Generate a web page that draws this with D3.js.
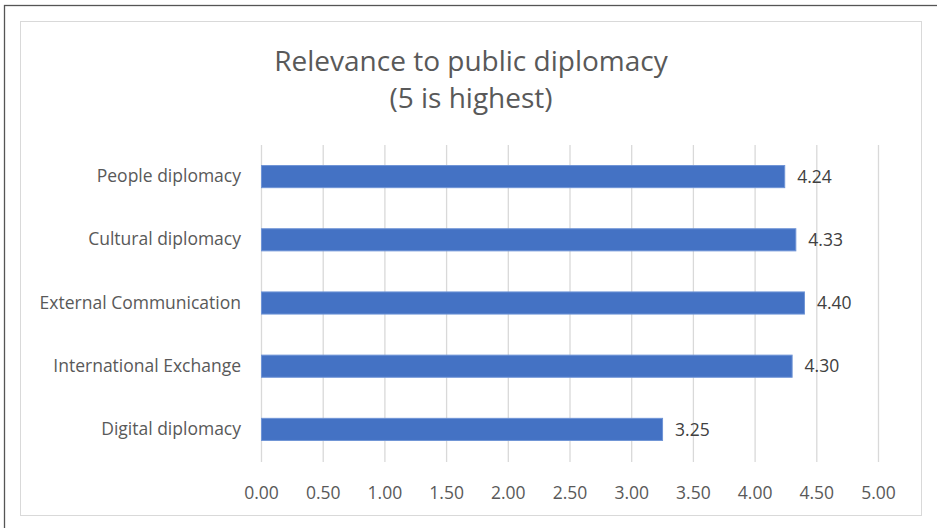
<!DOCTYPE html>
<html>
<head>
<meta charset="utf-8">
<script src="https://d3js.org/d3.v7.min.js"></script>
<style>
  body { margin: 0; background: #fff; }
  text { font-family: "Open Sans", "Noto Sans", sans-serif; }
</style>
</head>
<body>
<script>
// data
var categorias = ["People diplomacy", "Cultural diplomacy", "External Communication", "International Exchange", "Digital diplomacy"];
var valores = [4.24, 4.33, 4.40, 4.30, 3.25];
var ticksX = [0, 0.5, 1, 1.5, 2, 2.5, 3, 3.5, 4, 4.5, 5];
var titulo = ["Relevance to public diplomacy", "(5 is highest)"];

var width = 937, height = 528;
var margin = { top: 145, bottom: 67, left: 261, right: 59 };

var svg = d3.select("body").append("svg")
  .attr("width", width)
  .attr("height", height);

// marcos
svg.append("rect").attr("x", 4.5).attr("y", 5.5).attr("width", 940).attr("height", 540)
  .attr("fill", "none").attr("stroke", "#555").attr("stroke-width", 1.3);
svg.append("rect").attr("x", 20.5).attr("y", 21.5).attr("width", 901).attr("height", 494)
  .attr("fill", "#fff").attr("stroke", "#d9d9d9").attr("stroke-width", 1);

var x = d3.scaleLinear().domain([0, 5]).range([margin.left, width - margin.right]);
var y = d3.scaleBand().domain(categorias).range([margin.top, height - margin.bottom]).paddingInner(0.65).paddingOuter(0.325);

// gridlines
svg.append("g").selectAll("line")
  .data(ticksX)
  .join("line")
  .attr("x1", d => x(d) + 0.5).attr("x2", d => x(d) + 0.5)
  .attr("y1", margin.top).attr("y2", height - margin.bottom + 1)
  .attr("stroke", "#d9d9d9").attr("stroke-width", 1.3);

// eje X
var ejeX = d3.axisBottom(x).tickValues(ticksX).tickFormat(d3.format(".2f")).tickSize(0).tickPadding(26);
var gx = svg.append("g")
  .attr("transform", "translate(0," + (height - margin.bottom) + ")")
  .call(ejeX);
gx.select(".domain").remove();
gx.selectAll("text").attr("fill", "#595959").style("font-size", "17.5px").style("font-family", "'Open Sans', sans-serif");

// eje Y
var ejeY = d3.axisLeft(y).tickSize(0).tickPadding(20);
var gy = svg.append("g")
  .attr("transform", "translate(" + margin.left + ",0)")
  .call(ejeY);
gy.select(".domain").remove();
gy.selectAll("text").attr("fill", "#595959").style("font-size", "17.5px").style("font-family", "'Open Sans', sans-serif");

// barras
var datos = categorias.map((c, i) => ({ cat: c, val: valores[i] }));
svg.append("g").selectAll("rect")
  .data(datos)
  .join("rect")
  .attr("x", x(0) + 0.5)
  .attr("y", d => y(d.cat))
  .attr("width", d => x(d.val) - x(0))
  .attr("height", y.bandwidth())
  .attr("fill", "#4472C4")
  .attr("stroke", "#6f94d6").attr("stroke-width", 1);

// etiquetas
svg.append("g").selectAll("text")
  .data(datos)
  .join("text")
  .attr("x", d => x(d.val) + 13)
  .attr("y", d => y(d.cat) + y.bandwidth() / 2)
  .attr("dy", "0.35em")
  .attr("fill", "#404040")
  .style("font-size", "17.5px")
  .text(d => d.val.toFixed(2));

// titulo
svg.append("g").selectAll("text")
  .data(titulo)
  .join("text")
  .attr("x", 471)
  .attr("y", (d, i) => 71 + i * 37)
  .attr("text-anchor", "middle")
  .attr("fill", "#595959")
  .style("font-size", "28px")
  .text(d => d);
</script>
</body>
</html>
